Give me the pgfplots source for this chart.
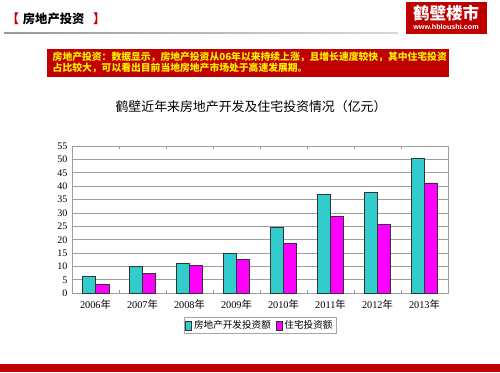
\documentclass[border=0pt]{standalone}
\usepackage{pgfplots}
\pgfplotsset{compat=1.18}
\usepackage{fontspec}
\setmainfont{Liberation Serif}
\newfontfamily\cjk{Noto Sans CJK SC}
\newfontfamily\sans{Liberation Sans}
\definecolor{bannerred}{HTML}{C00000}
\definecolor{teal1}{HTML}{33CCCC}
\definecolor{mag1}{HTML}{FF00FF}
\begin{document}
\begin{tikzpicture}[x=1pt,y=1pt]
\useasboundingbox (0,0) rectangle (500,372);
\fill[white] (0,0) rectangle (500,372);
% header
\node[anchor=west,text=bannerred,font=\cjk\bfseries\fontsize{12.5}{14}\selectfont,inner sep=0] at (6.5,353) {【};
\node[anchor=west,font=\cjk\bfseries\fontsize{12.3}{14}\selectfont,inner sep=0] at (22.7,353) {房地产投资};
\node[anchor=west,text=bannerred,font=\cjk\bfseries\fontsize{12.5}{14}\selectfont,inner sep=0] at (93,353) {】};
\shade[left color=gray!80, right color=gray!30] (4,338.2) rectangle (398,339.6);
% logo
\fill[bannerred] (405.5,338) rectangle (487,370.3);
\node[text=white,font=\cjk\bfseries\fontsize{16.5}{18}\selectfont,inner sep=0] at (446,358.5) {鹤壁楼市};
\node[text=white,font=\sans\bfseries\fontsize{7.2}{8}\selectfont,inner sep=0] at (446,345.3) {www.hbloushi.com};
% banner
\fill[bannerred] (47.3,295.3) rectangle (449.3,322.7);
\node[anchor=west,text=yellow,font=\cjk\bfseries\fontsize{9.8}{11}\selectfont,inner sep=0] at (52.5,315.3) {房地产投资：数据显示，房地产投资从06年以来持续上涨，且增长速度较快，其中住宅投资};
\node[anchor=west,text=yellow,font=\cjk\bfseries\fontsize{9.8}{11}\selectfont,inner sep=0] at (52.5,303.7) {占比较大，可以看出目前当地房地产市场处于高速发展期。};
% title
\node[font=\cjk\fontsize{12.9}{14}\selectfont,inner sep=0] at (251,265) {鹤壁近年来房地产开发及住宅投资情况（亿元）};
% bottom bar
\fill[bannerred] (0,0) rectangle (500,8);
\begin{axis}[
  at={(72pt,78.7pt)}, anchor=south west,
  scale only axis, width=376pt, height=147.3pt,
  xmin=-0.5, xmax=7.5, ymin=0, ymax=55,
  ybar=0pt, bar width=13.3pt,
  axis line style={gray!75, line width=0.8pt},
  ytick={0,5,...,55},
  ymajorgrids, grid style={gray!75, line width=0.9pt},
  xtick={0,...,7},
  xticklabels={{2006{\cjk 年}},{2007{\cjk 年}},{2008{\cjk 年}},{2009{\cjk 年}},{2010{\cjk 年}},{2011{\cjk 年}},{2012{\cjk 年}},{2013{\cjk 年}}},
  minor xtick={0.5,1.5,...,6.5},
  major x tick style={draw=none},
  minor tick length=3pt, tick align=inside,
  minor x tick style={gray!80, line width=0.8pt},
  major y tick style={draw=none},
  /pgf/number format/assume math mode=true,
  yticklabel style={font=\fontsize{10}{12}\selectfont, xshift=-1pt},
  xticklabel style={font=\fontsize{10.3}{12}\selectfont, yshift=-3pt},
  legend style={at={(rel axis cs:0.5,-0.159)}, anchor=north, legend columns=2,
    draw=gray!70, line width=0.9pt, font=\cjk\fontsize{9.6}{11}\selectfont,
    inner sep=1.5pt, /tikz/every even column/.append style={column sep=3pt}},
  legend image code/.code={\draw[#1, line width=0.6pt] (0pt,-4.5pt) rectangle (6pt,4.5pt);},
  legend cell align=left,
]
\addplot[fill=teal1, draw=black!80, line width=0.6pt] coordinates {(0,6.2) (1,10.0) (2,11.2) (3,15.0) (4,24.6) (5,36.8) (6,37.8) (7,50.5)};
\addplot[fill=mag1, draw=black!80, line width=0.6pt] coordinates {(0,3.4) (1,7.5) (2,10.3) (3,12.8) (4,18.7) (5,28.7) (6,25.8) (7,41.2)};
\legend{房地产开发投资额,住宅投资额}
\end{axis}
\end{tikzpicture}
\end{document}
